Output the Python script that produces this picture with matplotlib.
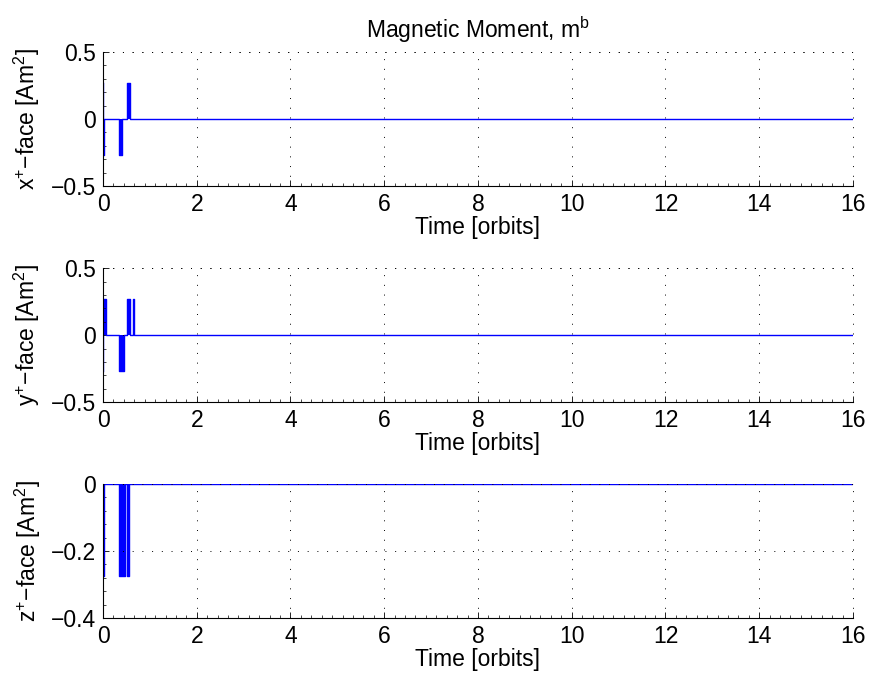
import numpy as np
import matplotlib
matplotlib.use("Agg")
import matplotlib.pyplot as plt
from matplotlib.ticker import AutoMinorLocator

plt.rcParams['font.family'] = ['Liberation Sans', 'DejaVu Sans']
plt.rcParams['mathtext.default'] = 'regular'

# Step-wise time series (time in orbits, magnetic moment in Am^2)
t_x = [0.0, 0.0, 0.0, 0.02, 0.02, 0.34, 0.34, 0.40, 0.40, 0.51, 0.51, 0.58, 0.58, 16.0]
m_x = [0.27, -0.27, -0.27, -0.27, 0.0, 0.0, -0.27, -0.27, 0.0, 0.0, 0.27, 0.27, 0.0, 0.0]

t_y = [0.0, 0.0, 0.0, 0.07, 0.07, 0.34, 0.34, 0.45, 0.45, 0.51, 0.51, 0.58, 0.58, 0.64, 0.64, 0.66, 0.66, 16.0]
m_y = [-0.27, 0.27, 0.27, 0.27, 0.0, 0.0, -0.27, -0.27, 0.0, 0.0, 0.27, 0.27, 0.0, 0.0, 0.27, 0.27, 0.0, 0.0]

t_z = [0.0, 0.0, 0.02, 0.02, 0.34, 0.34, 0.47, 0.47, 0.51, 0.51, 0.55, 0.55, 16.0]
m_z = [-0.275, -0.275, -0.275, 0.0, 0.0, -0.275, -0.275, 0.0, 0.0, -0.275, -0.275, 0.0, 0.0]

ylabels = [r'x$^{+}$$-$face [Am$^{2}$]', r'y$^{+}$$-$face [Am$^{2}$]', r'z$^{+}$$-$face [Am$^{2}$]']
ylims = [(-0.5, 0.5), (-0.5, 0.5), (-0.4, 0.0)]
yticks = [[-0.5, 0, 0.5], [-0.5, 0, 0.5], [-0.4, -0.2, 0]]
ytick_labels = [['\u22120.5', '0', '0.5'], ['\u22120.5', '0', '0.5'], ['\u22120.4', '\u22120.2', '0']]
xticks = [0, 2, 4, 6, 8, 10, 12, 14, 16]
title = 'Magnetic Moment, m$^{b}$'
xlabel = 'Time [orbits]'

fig = plt.figure(figsize=(8.7, 6.84), dpi=100)
bottoms = [0.728, 0.412, 0.0965]
series = [(t_x, m_x), (t_y, m_y), (t_z, m_z)]
fs = 16.5
dots = (0, (1, 9))
for i, (b, (t, m)) in enumerate(zip(bottoms, series)):
    ax = fig.add_axes([0.1184, b, 0.862, 0.196])
    ax.plot(t, m, color='#0000ff', lw=1.0)
    ax.fill_between(t, m, 0, color='#0000ff', lw=0)
    ax.set_xlim(0, 16)
    ax.set_ylim(*ylims[i])
    ax.set_xticks(xticks)
    ax.set_xticklabels([str(v) for v in xticks], fontsize=fs)
    ax.set_yticks(yticks[i])
    ax.set_yticklabels(ytick_labels[i], fontsize=fs)
    ax.xaxis.set_minor_locator(AutoMinorLocator(9))
    ax.yaxis.set_minor_locator(AutoMinorLocator(5))
    ax.tick_params(which='both', direction='in', top=False, right=False)
    ax.tick_params(which='major', length=4, width=0.6, pad=5)
    ax.tick_params(which='minor', length=2, width=0.5)
    for s in ['top', 'right']:
        ax.spines[s].set_visible(False)
    for s in ['left', 'bottom']:
        ax.spines[s].set_linewidth(0.8)
    ax.grid(True, which='major', linestyle=dots, color='black', lw=0.7)
    ax.axhline(ylims[i][1], linestyle=dots, color='black', lw=0.7, clip_on=False)
    ax.axvline(16, linestyle=dots, color='black', lw=0.7, clip_on=False)
    ax.set_xlabel(xlabel, fontsize=fs, labelpad=0)
    ax.set_ylabel(ylabels[i], fontsize=fs, labelpad=6)
    if i == 0:
        ax.set_title(title, fontsize=fs, pad=10)

fig.savefig('out.png', dpi=100)
